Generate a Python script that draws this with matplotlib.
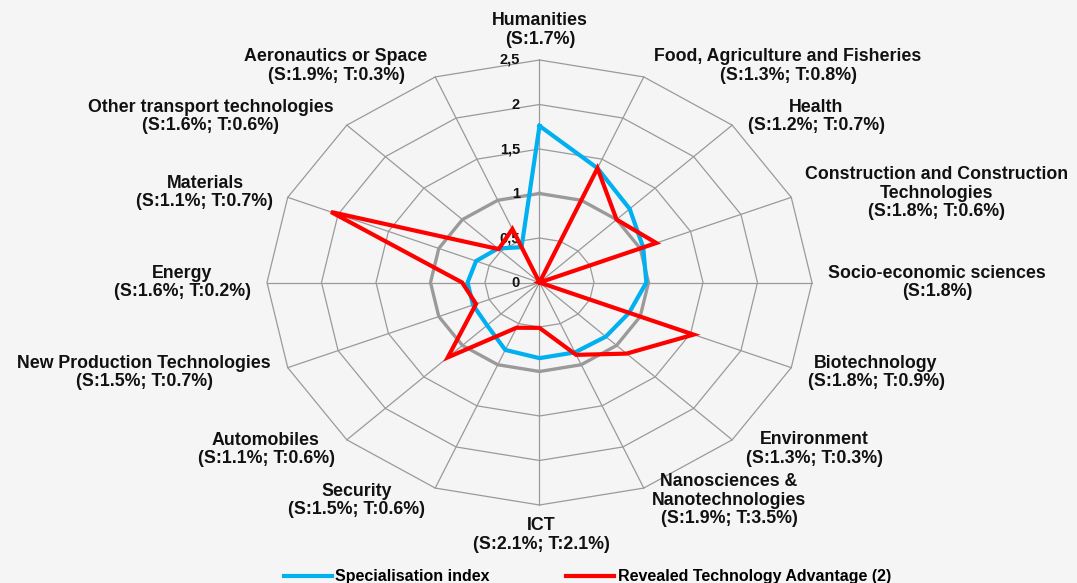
import numpy as np
import matplotlib
matplotlib.use("Agg")
import matplotlib.pyplot as plt

# ---------------- data ----------------
categories = [
    "Humanities",
    "Food, Agriculture and Fisheries",
    "Health",
    "Construction and Construction\nTechnologies",
    "Socio-economic sciences",
    "Biotechnology",
    "Environment",
    "Nanosciences &\nNanotechnologies",
    "ICT",
    "Security",
    "Automobiles",
    "New Production Technologies",
    "Energy",
    "Materials",
    "Other transport technologies",
    "Aeronautics or Space",
]
s_share = [1.7, 1.3, 1.2, 1.8, 1.8, 1.8, 1.3, 1.9, 2.1, 1.5, 1.1, 1.5, 1.6, 1.1, 1.6, 1.9]
t_share = [None, 0.8, 0.7, 0.6, None, 0.9, 0.3, 3.5, 2.1, 0.6, 0.6, 0.7, 0.2, 0.7, 0.6, 0.3]

specialisation = [1.76, 1.39, 1.17, 1.03, 0.98, 0.89, 0.86, 0.85, 0.85, 0.82,
                  0.68, 0.66, 0.66, 0.63, 0.54, 0.43]
rta = [0.0, 1.39, 1.00, 1.16, 0.0, 1.53, 1.13, 0.88, 0.51, 0.55,
       1.19, 0.63, 0.71, 2.07, 0.53, 0.65]

ticks = [0, 0.5, 1, 1.5, 2, 2.5]
series_names = ["Specialisation index", "Revealed Technology Advantage (2)"]

# ---------------- layout ----------------
W, H = 1077, 583
CX, CY = 539.5, 282.5          # centre in image pixels (y down)
SX, SY = 109.0, 89.0           # pixels per unit horizontally / vertically
BG = "#f5f5f5"
GRID = "#9a9a9a"
BLUE = "#00b0f0"
RED = "#ff0000"

label_pos = [  # label block centres in image pixels
    (540, 30), (788, 66), (816, 116.5), (937, 193), (937, 282.5),
    (876, 372.5), (814, 449), (729, 500.3), (541, 535), (357, 500.5),
    (266, 449.5), (144, 372.5), (182.5, 282.5), (205, 192.5),
    (211, 116.5), (336, 66),
]

plt.rcParams["font.family"] = ["Liberation Sans", "DejaVu Sans"]

fig = plt.figure(figsize=(W / 100, H / 100), dpi=100, facecolor=BG)
ax = fig.add_axes([0, 0, 1, 1])
ax.set_facecolor(BG)
ax.set_xlim(-CX / SX, (W - CX) / SX)
ax.set_ylim(-(H - CY) / SY, CY / SY)
ax.axis("off")

n = len(categories)
theta = np.arange(n) * 2 * np.pi / n
sx, cy = np.sin(theta), np.cos(theta)
closed_sx = np.append(sx, sx[0])
closed_cy = np.append(cy, cy[0])

# grid rings
for t in ticks[1:]:
    lw = 2.4 if t == 1 else 0.9
    ax.plot(t * closed_sx, t * closed_cy, color=GRID, lw=lw, zorder=1)
# spokes
rmax = ticks[-1]
for a, b in zip(sx, cy):
    ax.plot([0, rmax * a], [0, rmax * b], color=GRID, lw=0.9, zorder=1)

# tick labels
for t in ticks:
    ax.text(-0.18, t, f"{t:g}".replace(".", ","), ha="right", va="center",
            fontsize=10.5, fontweight="bold", color="#111111", zorder=3)

# series
def closed(v):
    v = np.asarray(v)
    return np.append(v * sx, v[0] * sx[0]), np.append(v * cy, v[0] * cy[0])

bx, by = closed(specialisation)
ax.plot(bx, by, color=BLUE, lw=3, zorder=4, solid_joinstyle="miter",
        label=series_names[0])
rx, ry = closed(rta)
ax.plot(rx, ry, color=RED, lw=3, zorder=5, solid_joinstyle="miter",
        label=series_names[1])

# category labels
for name, s, t, (px, py) in zip(categories, s_share, t_share, label_pos):
    if t is None:
        share = f"(S:{s:.1f}%)"
    else:
        share = f"(S:{s:.1f}%; T:{t:.1f}%)"
    fig.text(px / W, 1 - py / H, f"{name}\n{share}", ha="center", va="center",
             multialignment="center", fontsize=12.8, fontweight="bold",
             color="#111111", linespacing=1.1)

# legend
leg = fig.legend(loc="center left", bbox_to_anchor=(283.5 / W, 1 - 576.7 / H),
                 ncol=2, frameon=False, fontsize=11.5, handlelength=3.05,
                 handletextpad=0.2, columnspacing=4.75, borderpad=0,
                 borderaxespad=0)
for txt in leg.get_texts():
    txt.set_fontweight("bold")

fig.savefig("out.png", dpi=100, facecolor=BG)
